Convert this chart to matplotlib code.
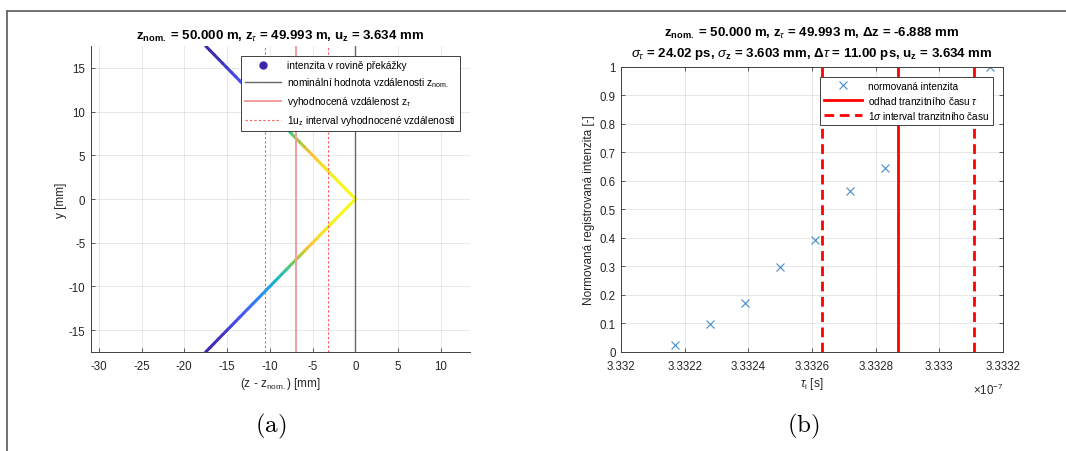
import numpy as np
import matplotlib
matplotlib.use("Agg")
import matplotlib.pyplot as plt
from matplotlib.collections import LineCollection
from matplotlib.colors import LinearSegmentedColormap, Normalize
from matplotlib.lines import Line2D
from matplotlib.ticker import FuncFormatter

plt.rcParams['font.family'] = ['Liberation Sans', 'DejaVu Sans']
plt.rcParams['mathtext.fontset'] = 'custom'
plt.rcParams['mathtext.rm'] = 'Liberation Sans'
plt.rcParams['mathtext.it'] = 'Liberation Sans:italic'
plt.rcParams['mathtext.bf'] = 'Liberation Sans:bold'
plt.rcParams['axes.unicode_minus'] = False

# --- (a) obstacle profile ---
z_nom_offset = 0.0          # mm, nominal distance reference
dz = -6.888                 # mm, evaluated distance offset
u_z = 3.634                 # mm
y_half = np.arange(0, 17.51, 0.5)  # mm, |y| sample positions
# intensity across the obstacle plane, sampled at y_half
intensity_half = [1.00, 0.99, 0.99, 0.98, 0.96, 0.94, 0.91, 0.88, 0.85, 0.81,
                  0.78, 0.73, 0.69, 0.65, 0.61, 0.56, 0.52, 0.48, 0.44, 0.40,
                  0.36, 0.33, 0.29, 0.26, 0.23, 0.20, 0.18, 0.16, 0.14, 0.12,
                  0.10, 0.09, 0.07, 0.06, 0.05, 0.04]
x1_ticks = [-30, -25, -20, -15, -10, -5, 0, 5, 10]
y1_ticks = [-15, -10, -5, 0, 5, 10, 15]

# --- (b) normalised registered intensity ---
tau_i = [3.33217e-7, 3.33228e-7, 3.33239e-7, 3.33250e-7, 3.33261e-7,
         3.33272e-7, 3.33283e-7, 3.33294e-7, 3.33305e-7, 3.33316e-7]
norm_int = [0.023, 0.096, 0.171, 0.299, 0.391, 0.563, 0.646, 0.85, 0.93, 1.0]
tau_est = 3.33287e-7
sigma_tau = 24.02e-12
x2_ticks = [3.3320e-7, 3.3322e-7, 3.3324e-7, 3.3326e-7, 3.3328e-7, 3.3330e-7, 3.3332e-7]
y2_ticks = [0, 0.1, 0.2, 0.3, 0.4, 0.5, 0.6, 0.7, 0.8, 0.9, 1.0]

# MATLAB parula anchors
parula = LinearSegmentedColormap.from_list('parula', [
    (0.2422, 0.1504, 0.6603), (0.2810, 0.3228, 0.9579), (0.1786, 0.5289, 0.9682),
    (0.0689, 0.6948, 0.8394), (0.2161, 0.7843, 0.5923), (0.6720, 0.7793, 0.2227),
    (0.9970, 0.7659, 0.2199), (0.9589, 0.8949, 0.1132), (0.9769, 0.9839, 0.0805)])

axcol = '0.25'
txtcol = '0.15'
tick_fs = 8.3
label_fs = 8.5
title_fs = 9.5

fig = plt.figure(figsize=(10.66, 4.52), dpi=100)

def style_axes(ax, box):
    for s in ax.spines.values():
        s.set_color(axcol)
        s.set_linewidth(0.7)
    if not box:
        ax.spines['top'].set_visible(False)
        ax.spines['right'].set_visible(False)
    ax.tick_params(direction='in', length=3, width=0.6, color=axcol,
                   labelsize=tick_fs, labelcolor=txtcol,
                   top=box, right=box)
    ax.tick_params(axis='x', pad=6)
    ax.tick_params(axis='y', pad=4)
    ax.grid(True, color='0.15', alpha=0.12, linewidth=0.6)
    ax.set_axisbelow(True)

# ----- left panel -----
ax1 = fig.add_axes([0.0854, 0.219, 0.3555, 0.677])
y_prof = np.concatenate([-y_half[:0:-1], y_half])
i_prof = np.array(intensity_half[:0:-1] + intensity_half)
z_prof = -np.abs(y_prof)
pts = np.column_stack([z_prof, y_prof]).reshape(-1, 1, 2)
segs = np.concatenate([pts[:-1], pts[1:]], axis=1)
lc = LineCollection(segs, cmap=parula, norm=Normalize(i_prof.min(), i_prof.max()),
                    linewidth=2.2, capstyle='round')
lc.set_array(0.5 * (i_prof[:-1] + i_prof[1:]))
ax1.add_collection(lc)
ax1.axvline(z_nom_offset, color='0.4', lw=1.0)
ax1.axvline(dz, color=(0.94, 0.62, 0.62), lw=1.4)
ax1.axvline(dz - u_z, color=(1, 0.35, 0.35), lw=0.8, ls=(0, (2, 2)))
ax1.axvline(dz + u_z, color=(1, 0.35, 0.35), lw=0.8, ls=(0, (2, 2)))
ax1.set_xlim(-30.9, 13.4)
ax1.set_ylim(-17.5, 17.5)
ax1.set_xticks(x1_ticks)
ax1.set_yticks(y1_ticks)
style_axes(ax1, box=False)
ax1.set_xlabel('(z - z$_{\\mathrm{nom.}}$) [mm]', fontsize=label_fs, color=txtcol, labelpad=2)
ax1.set_ylabel('y [mm]', fontsize=label_fs, color=txtcol, labelpad=1)
ax1.set_title('z$_{\\mathbf{nom.}}$ = 50.000 m, z$_{τ}$ = 49.993 m, u$_{\\mathbf{z}}$ = 3.634 mm',
              fontsize=title_fs, fontweight='bold', pad=5)
h1 = [Line2D([], [], marker='o', ls='none', color=(0.24, 0.15, 0.66), markersize=5),
      Line2D([], [], color='0.4', lw=1.0),
      Line2D([], [], color=(0.94, 0.62, 0.62), lw=1.4),
      Line2D([], [], color=(1, 0.35, 0.35), lw=0.8, ls=(0, (2, 2)))]
l1 = ['intenzita v rovině překážky',
      'nominální hodnota vzdálenosti z$_{\\mathrm{nom.}}$',
      'vyhodnocená vzdálenost z$_{τ}$',
      '1u$_{\\mathrm{z}}$ interval vyhodnocené vzdálenosti']
leg1 = ax1.legend(h1, l1, loc='upper right', fontsize=7.3, handlelength=3.6,
                  borderaxespad=1.0, fancybox=False, framealpha=1,
                  edgecolor=axcol, labelspacing=0.5, handletextpad=0.6)
leg1.get_frame().set_linewidth(0.7)

# ----- right panel -----
ax2 = fig.add_axes([0.5828, 0.2197, 0.358, 0.63])
ax2.plot(tau_i, norm_int, ls='none', marker='x', color=(0.25, 0.55, 0.8),
         markersize=6, mew=0.8, label='normovaná intenzita')
ax2.axvline(tau_est, color='red', lw=2.0, label='odhad tranzitního času $τ$')
ax2.axvline(tau_est - sigma_tau, color='red', lw=2.0, ls=(0, (3.5, 2)),
            label='1$σ$ interval tranzitního času')
ax2.axvline(tau_est + sigma_tau, color='red', lw=2.0, ls=(0, (3.5, 2)))
ax2.set_xlim(x2_ticks[0], x2_ticks[-1])
ax2.set_ylim(0, 1)
ax2.set_xticks(x2_ticks)
ax2.set_yticks(y2_ticks)
ax2.xaxis.set_major_formatter(FuncFormatter(lambda v, p: f'{v * 1e7:.5f}'.rstrip('0').rstrip('.')))
ax2.yaxis.set_major_formatter(FuncFormatter(lambda v, p: f'{v:.1f}'.rstrip('0').rstrip('.')))
style_axes(ax2, box=True)
ax2.set_xlabel('$τ$$_{\\mathrm{i}}$ [s]', fontsize=label_fs, color=txtcol, labelpad=2)
ax2.set_ylabel('Normovaná registrovaná intenzita [-]', fontsize=label_fs, color=txtcol, labelpad=3)
ax2.text(1.0, -0.105, '×10$^{-7}$', transform=ax2.transAxes, ha='right', va='top',
         fontsize=tick_fs, color=txtcol)
ax2.set_title('z$_{\\mathbf{nom.}}$ = 50.000 m, z$_{τ}$ = 49.993 m, Δz = -6.888 mm\n'
              '$σ_{τ}$ = 24.02 ps, $σ$$_{\\mathbf{z}}$ = 3.603 mm, Δ$τ$ = 11.00 ps, u$_{\\mathbf{z}}$ = 3.634 mm',
              fontsize=title_fs, fontweight='bold', pad=8, linespacing=1.4)
leg2 = ax2.legend(loc='upper right', fontsize=7.2, handlelength=3.8,
                  borderaxespad=1.0, fancybox=False, framealpha=1,
                  edgecolor=axcol, labelspacing=0.3, handletextpad=0.6)
leg2.get_frame().set_linewidth(0.7)

# captions and outer frame
fig.text(271 / 1066, 1 - 426 / 452, r'$\mathrm{(a)}$', ha='center', va='center',
         fontsize=18, math_fontfamily='cm')
fig.text(803 / 1066, 1 - 426 / 452, r'$\mathrm{(b)}$', ha='center', va='center',
         fontsize=18, math_fontfamily='cm')
fig.add_artist(Line2D([0.007, 1.0], [0.9735, 0.9735], color='0.4', lw=1.3,
                      transform=fig.transFigure))
fig.add_artist(Line2D([0.007, 0.007], [0.0, 0.9735], color='0.4', lw=1.3,
                      transform=fig.transFigure))

fig.savefig('out.png', dpi=100)
